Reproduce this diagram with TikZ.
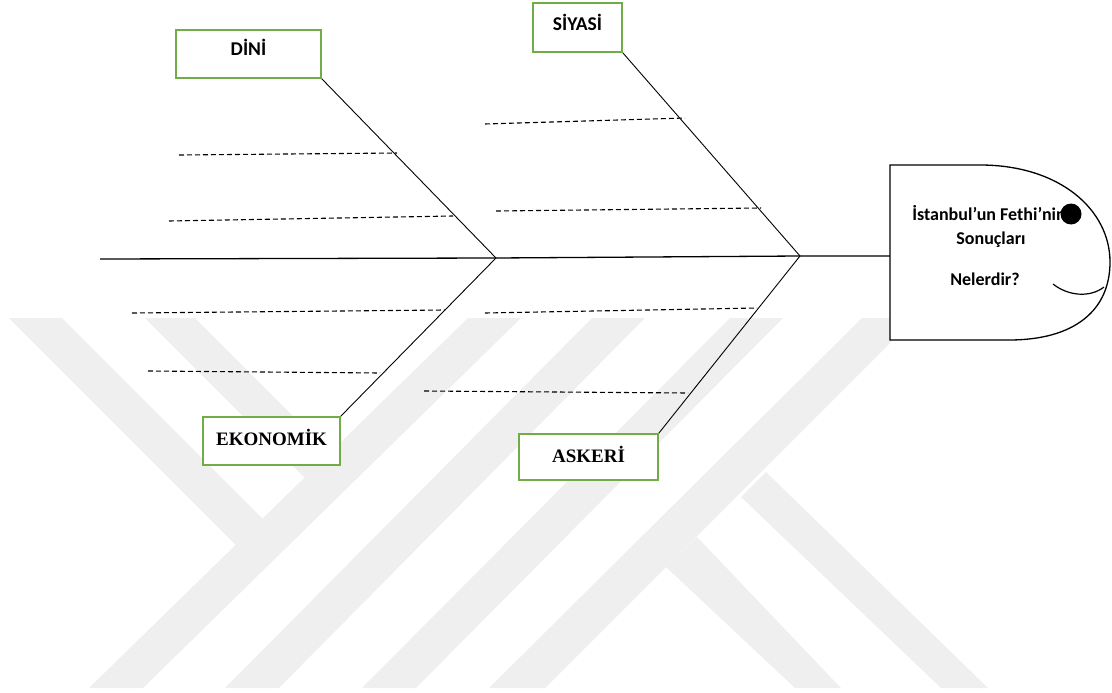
\documentclass[tikz,border=0pt]{standalone}
\usepackage{fontspec}
\setmainfont{Carlito}
\newfontfamily\timesyazi{Liberation Serif}
\definecolor{yesil}{HTML}{70AD47}
\definecolor{filigran}{HTML}{EFEFEF}
\tikzset{
  kutu/.style={draw=yesil, line width=1.6pt, fill=white, inner sep=0pt},
  kol/.style={line width=0.9pt},
  omurga/.style={line width=1.3pt},
  kesik/.style={dash pattern=on 5pt off 3pt, line width=1.1pt},
  yazi/.style={font=\fontsize{19.5}{21}\selectfont\bfseries},
  basyazi/.style={font=\fontsize{18}{20}\selectfont\bfseries},
  seriyazi/.style={font=\timesyazi\fontsize{19}{21}\selectfont\bfseries}
}
\begin{document}
\begin{tikzpicture}[x=1pt, y=-1pt]
    \useasboundingbox (0,0) rectangle (1112,693);
    % Filigran
    \fill[filigran] (9,318) -- (62,318) -- (263,519) -- (236,545) -- cycle;
    \fill[filigran] (145,318) -- (195,318) -- (330,453) -- (305,478) -- cycle;
    \fill[filigran] (468,318) -- (521,318) -- (143,688) -- (89,688) -- cycle;
    \fill[filigran] (592,318) -- (645,318) -- (279,688) -- (225,688) -- cycle;
    \fill[filigran] (730,318) -- (783,318) -- (416,688) -- (362,688) -- cycle;
    \fill[filigran] (862,318) -- (915,318) -- (545,688) -- (489,688) -- cycle;
    \fill[filigran] (741,497) -- (766,472) -- (988,688) -- (941,688) -- cycle;
    \fill[filigran] (666,567) -- (697,537) -- (841,688) -- (795,688) -- cycle;
    % Omurga
    \coordinate (kuyruk) at (100,259);
    \coordinate (j1) at (496,258);
    \coordinate (j2) at (800,256);
    \coordinate (bas) at (890,256);
    \draw[omurga] (kuyruk) -- (j1) -- (j2) -- (bas);
    % Kutular
    \node[kutu, minimum width=145pt, minimum height=48pt] (dini) at (248.5,54) {};
    \node[kutu, minimum width=89pt, minimum height=49pt] (siyasi) at (577.5,27.5) {};
    \node[kutu, minimum width=137pt, minimum height=48pt] (ekonomik) at (271.5,441) {};
    \node[kutu, minimum width=139pt, minimum height=46pt] (askeri) at (588.5,457) {};
    \node[yazi] (dini yazi) at ([yshift=7pt]dini.center) {DİNİ};
    \node[yazi] (siyasi yazi) at ([yshift=5.5pt]siyasi.center) {SİYASİ};
    \node[seriyazi] (ekonomik yazi) at ([yshift=4pt]ekonomik.center) {EKONOMİK};
    \node[seriyazi] (askeri yazi) at ([yshift=3pt]askeri.center) {ASKERİ};
    % Kollar
    \draw[kol] (dini.south east) -- (j1);
    \draw[kol] (ekonomik.north east) -- (j1);
    \draw[kol] (siyasi.south east) -- (j2);
    \draw[kol] (askeri.north east) -- (j2);
    % Kesikli cizgiler
    \foreach \i/\xa/\ya/\xb/\yb in {
        1/179/155/397/153, 2/169/221/453/216,
        3/485/124/685/118, 4/496/211/761/208,
        5/132/313/445/310, 6/148/371/380/373,
        7/485/313/757/308, 8/424/391/688/393}{
        \coordinate (r\i a) at (\xa,\ya);
        \coordinate (r\i b) at (\xb,\yb);
        \draw[kesik] (r\i a) -- (r\i b);
    }
    % Balik basi
    \draw[line width=1.3pt, fill=white] (890,165) -- (980,165)
        .. controls (1060,165) and (1110,210) .. (1110,262)
        .. controls (1110,310) and (1075,340) .. (1009,340)
        -- (890,340) -- cycle;
    \node[basyazi] (soru1) at (989,213) {İstanbul’un Fethi’nin};
    \node[basyazi] (soru2) at (991,240) {Sonuçları};
    \node[basyazi] (soru3) at (985,279) {Nelerdir?};
    \fill (1071,214) circle (10.5pt);
    \draw[line width=1.2pt] (1053,284) .. controls (1068,296) and (1090,298) .. (1104,287);
\end{tikzpicture}
\end{document}
